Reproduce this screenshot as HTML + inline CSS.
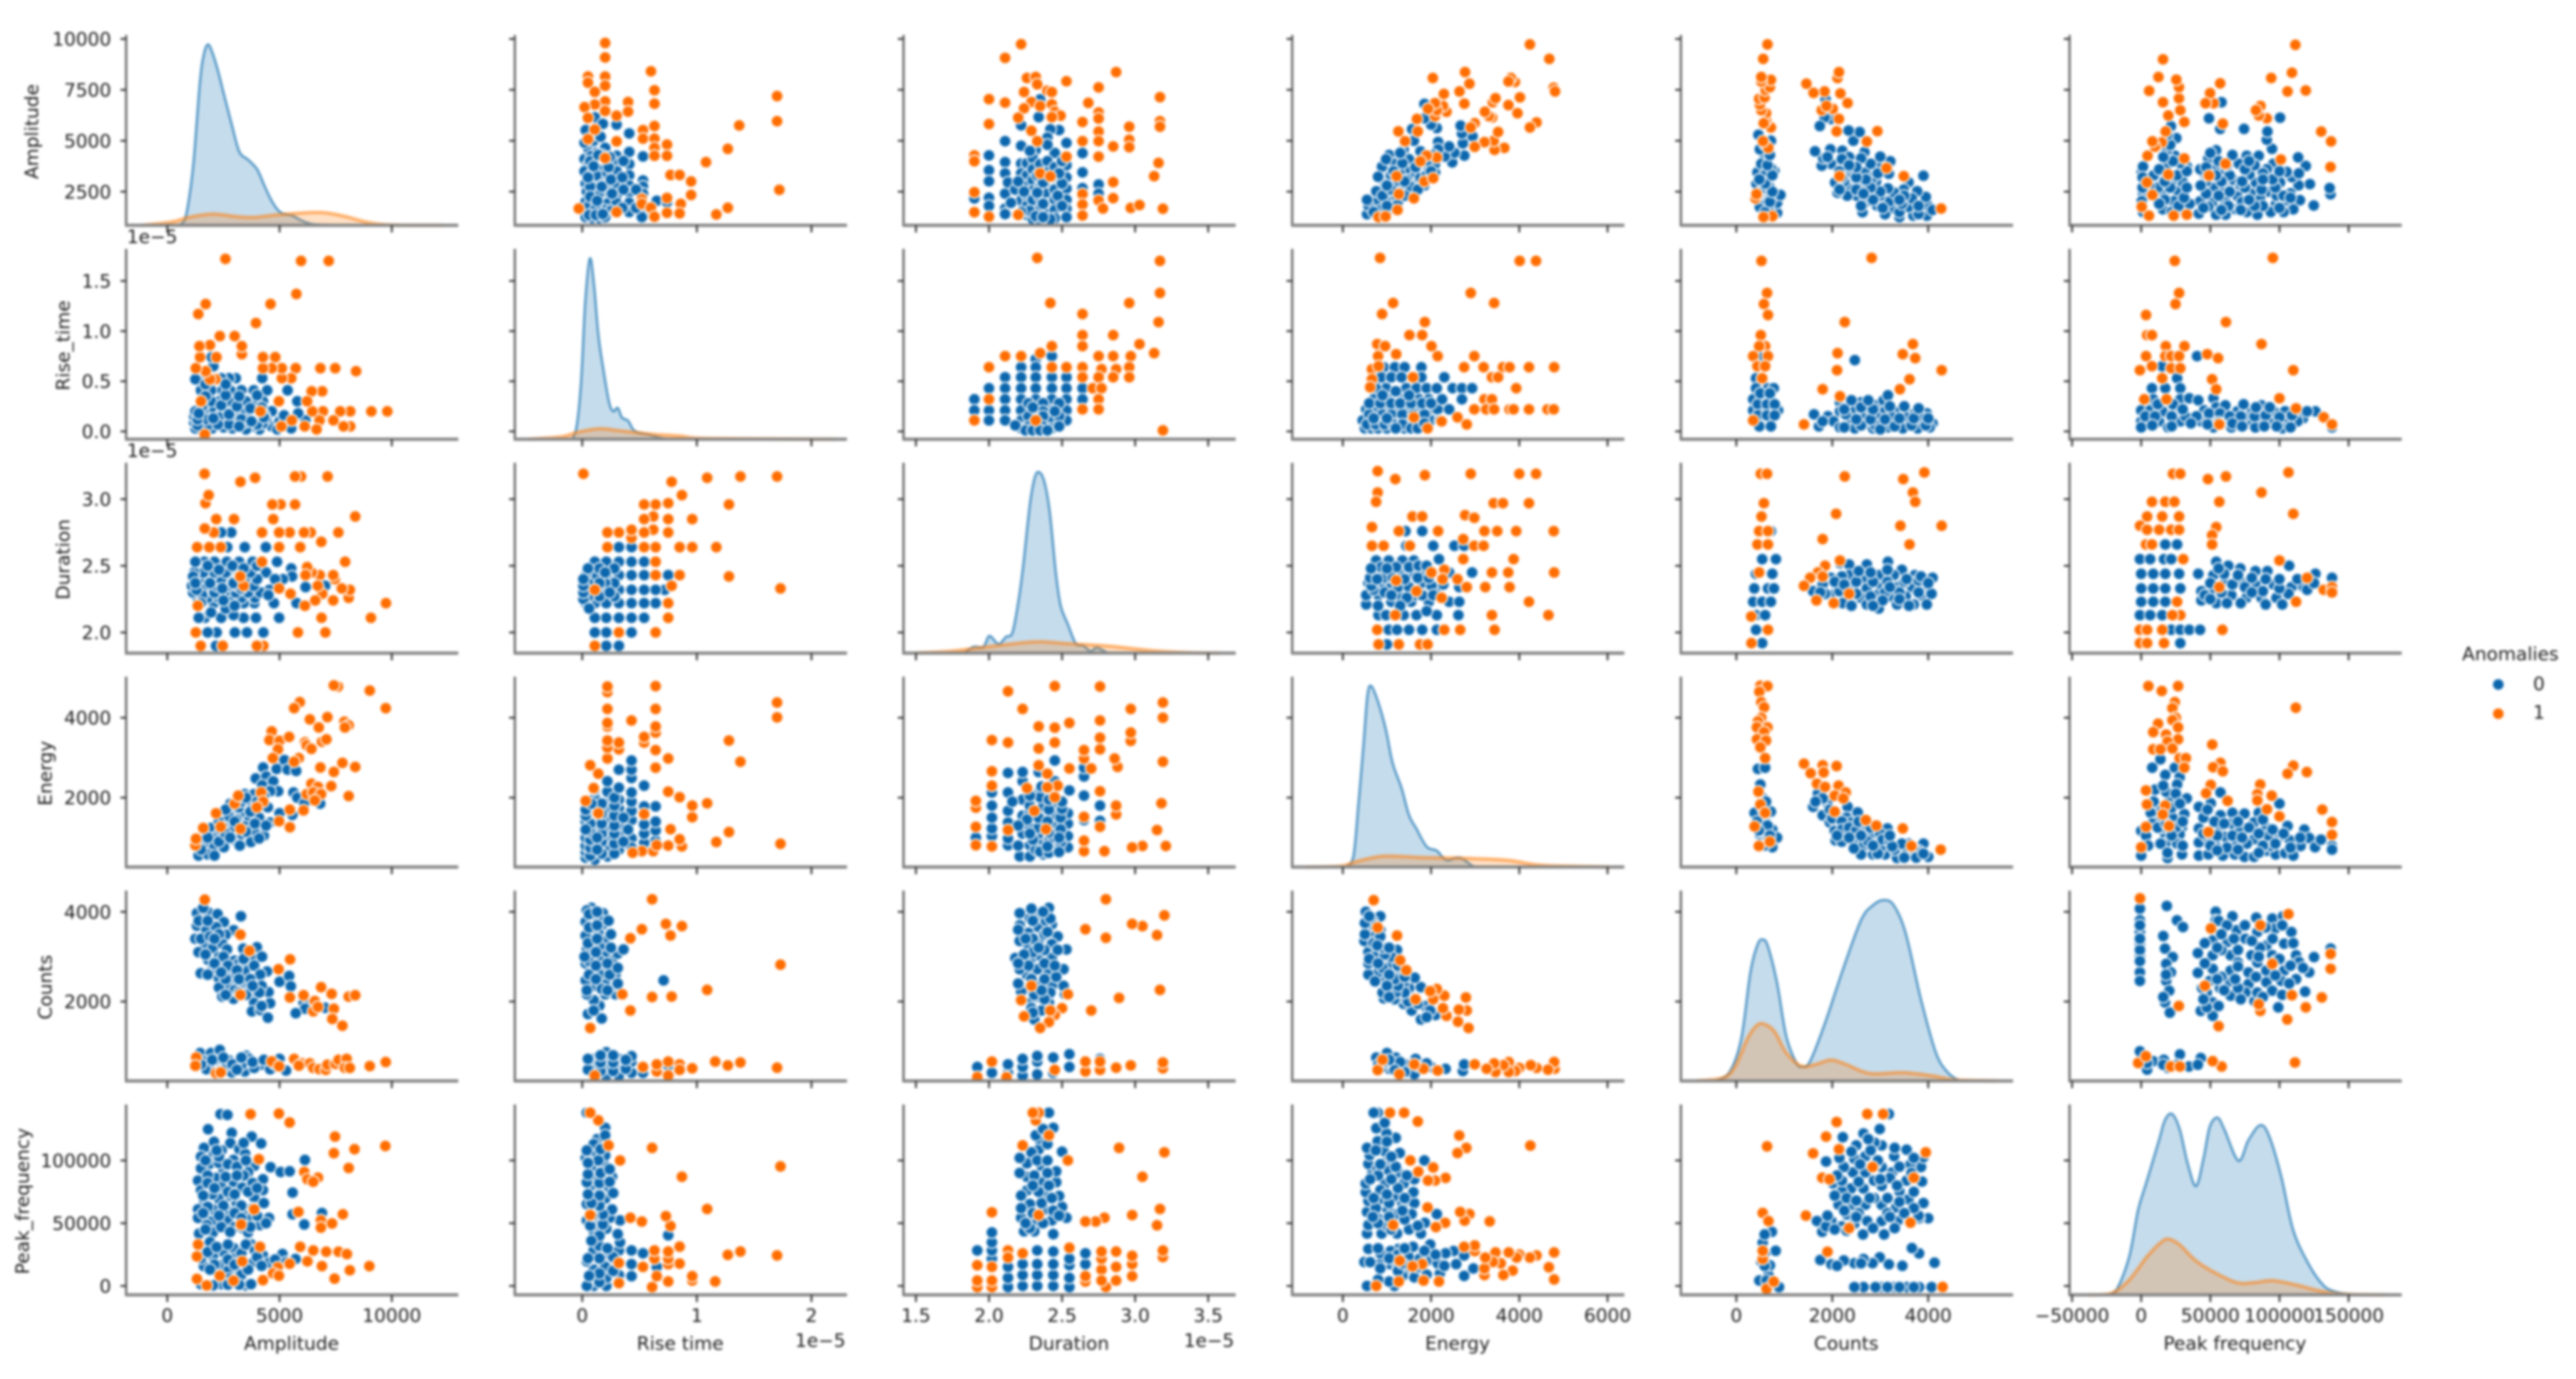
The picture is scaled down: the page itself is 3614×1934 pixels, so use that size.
<!DOCTYPE html>
<html lang="en">
<head>
<meta charset="utf-8">
<title>Pair plot of acoustic emission features by anomaly label</title>
<style>
html,body{margin:0;padding:0;background:#fff;}
#chart{display:block;width:3614px;height:1934px;filter:blur(1.8px);background:#fff;}
text{font-family:"DejaVu Sans","Liberation Sans",sans-serif;fill:#1c1c1c;font-size:26px;}
</style>
</head>
<body>
<svg id="chart" xmlns="http://www.w3.org/2000/svg" width="3614" height="1934" viewBox="0 0 3614 1934">
<g id="panels"></g>
<g id="legend">
<text x="3522" y="926" text-anchor="middle">Anomalies</text>
<circle cx="3505" cy="960" r="8.5" fill="#0b66ad" stroke="#fff" stroke-width="2"></circle>
<text x="3562" y="968" text-anchor="middle">0</text>
<circle cx="3505" cy="1001" r="8.5" fill="#ff6d00" stroke="#fff" stroke-width="2"></circle>
<text x="3562" y="1008" text-anchor="middle">1</text>
</g>
</svg>
<script>
const varKeys = ['A','R','D','E','C','P'];
const rowNames = {A:'Amplitude',R:'Rise_time',D:'Duration',E:'Energy',C:'Counts',P:'Peak_frequency'};
const colNames = {A:'Amplitude',R:'Rise time',D:'Duration',E:'Energy',C:'Counts',P:'Peak frequency'};
const xLimits = {A:[-1832,12962],R:[-0.588,2.31],D:[1.415,3.688],E:[-1147,6381],C:[-1156,5768],P:[-51800,188400]};
const yLimits = {A:[847,10196],R:[-0.078,1.82],D:[1.845,3.273],E:[264,5028],C:[229,4474],P:[-7100,144600]};
const xTickValues = {A:[0,5000,10000],R:[0,1,2],D:[1.5,2,2.5,3,3.5],E:[0,2000,4000,6000],C:[0,2000,4000],P:[-50000,0,50000,100000,150000]};
const xTickLabels = {A:['0','5000','10000'],R:['0','1','2'],D:['1.5','2.0','2.5','3.0','3.5'],E:['0','2000','4000','6000'],C:['0','2000','4000'],P:['\u221250000','0','50000','100000','150000']};
const yTickValues = {A:[2500,5000,7500,10000],R:[0,0.5,1,1.5],D:[2,2.5,3],E:[2000,4000],C:[2000,4000],P:[0,50000,100000]};
const yTickLabels = {A:['2500','5000','7500','10000'],R:['0.0','0.5','1.0','1.5'],D:['2.0','2.5','3.0'],E:['2000','4000'],C:['2000','4000'],P:['0','50000','100000']};

/* KDE curves: [value, relative density] */
const kdeA0 = [[450,0],[760,.027],[970,.15],[1180,.363],[1450,.788],[1630,.947],[1820,1],[2030,.947],[2290,.84],[2500,.735],[2870,.558],[3210,.407],[3600,.363],[4000,.31],[4320,.221],[4660,.133],[5050,.071],[5580,.053],[5970,.027],[6370,.009],[6760,.004],[7950,0]];
const kdeA1 = [[-1130,0],[180,.018],[970,.044],[2030,.062],[3080,.048],[3870,.044],[4920,.058],[6500,.071],[7290,.065],[8080,.044],[8870,.018],[9920,.002],[12290,0]];
const kdeR0 = [[-.09,0],[-.05,.067],[-.01,.314],[.026,.756],[.067,1],[.104,.845],[.14,.58],[.18,.403],[.233,.208],[.27,.155],[.31,.173],[.347,.12],[.4,.102],[.45,.05],[.52,.032],[.6,.023],[.7,.005],[.78,0]];
const kdeR1 = [[-.47,0],[-.18,.014],[-.03,.04],[.155,.058],[.34,.046],[.6,.028],[.85,.018],[1.11,.004],[2.2,0]];
const kdeD0 = [[1.826,0],[1.894,.035],[1.962,.035],[2.003,.095],[2.065,.05],[2.116,.09],[2.16,.113],[2.2,.28],[2.235,.49],[2.28,.823],[2.314,.974],[2.345,1],[2.38,.944],[2.416,.778],[2.457,.446],[2.49,.264],[2.54,.159],[2.594,.053],[2.645,.041],[2.696,.011],[2.737,.03],[2.816,0]];
const kdeD1 = [[1.5,0],[1.74,.011],[1.945,.03],[2.15,.05],[2.34,.063],[2.525,.053],[2.83,.038],[3.1,.015],[3.34,.003],[3.58,0]];
const kdeE0 = [[70,0],[240,.06],[354,.347],[470,.68],[560,.952],[650,1],[810,.906],[980,.755],[1130,.574],[1330,.438],[1500,.287],[1670,.211],[1900,.113],[2130,.09],[2350,.038],[2640,.053],[2930,.008],[3040,0]];
const kdeE1 = [[-850,0],[-50,.005],[300,.03],[925,.06],[1780,.053],[2810,.048],[3730,.038],[4530,.01],[6070,0]];
const kdeC0 = [[-460,0],[-150,.046],[100,.23],[290,.596],[440,.752],[550,.783],[660,.743],[850,.541],[1040,.248],[1250,.1],[1370,.079],[1540,.11],[1850,.321],[2220,.615],[2600,.89],[2850,.972],[3070,1],[3280,.972],[3530,.817],[3850,.45],[4160,.156],[4410,.046],[4660,0]];
const kdeC1 = [[-840,0],[-270,.018],[-20,.083],[225,.23],[410,.303],[560,.316],[790,.275],[1040,.156],[1350,.083],[1660,.092],[1970,.116],[2280,.092],[2780,.042],[3470,.046],[4090,.028],[4590,.006],[5470,0]];
const kdeP0 = [[-23700,0],[-17200,.037],[-8600,.212],[-2200,.47],[4300,.635],[12900,.856],[17200,.967],[22400,1],[28000,.912],[33600,.727],[39700,.602],[45300,.764],[49600,.93],[55200,.98],[60300,.912],[70300,.742],[77600,.856],[86200,.939],[92700,.875],[101300,.654],[109900,.359],[120700,.175],[131500,.055],[140100,.018],[150900,.004],[161600,0]];
const kdeP1 = [[-38800,0],[-21600,.009],[-8600,.083],[4300,.212],[15100,.295],[20300,.308],[28000,.276],[38800,.193],[51700,.129],[69000,.068],[81900,.068],[94800,.079],[112000,.055],[129300,.022],[146600,.004],[176700,0]];

/* Scatter readings: [x value, y value]; rise time and duration in units of 1e-5 */
const ptsRA0 = [[.03,5520],[.11,6150],[.18,5830],[.3,5790],[.41,5360],[.05,4650],[.2,4650],[.41,4450],[.3,4260],[.53,4230],[.12,4400],[.02,4100],[.08,4250],[.15,4050],[.2,3900],[.05,3800],[.12,3700],[.3,3900],[.41,3850],[.02,3500],[.09,3450],[.17,3550],[.2,3300],[.3,3500],[.41,3300],[.53,3050],[.03,2900],[.1,2950],[.14,3050],[.2,2800],[.3,2850],[.41,2800],[.53,2750],[.04,2500],[.1,2400],[.16,2500],[.2,2300],[.3,2300],[.41,2450],[.53,2400],[.65,2050],[.03,2000],[.1,1900],[.17,2000],[.23,1950],[.3,1950],[.41,1950],[.52,2000],[.74,1980],[.02,1550],[.08,1500],[.14,1500],[.2,1600],[.25,1550],[.41,1500],[.53,1450],[.03,1250],[.09,1200],[.15,1200],[.2,1250],[.52,1250],[.06,1800],[.12,1700],[.14,2300],[.07,2750],[.12,3300],[.07,4000],[.17,4300],[.05,3200],[.1,3750],[.14,4300],[.17,2750],[.23,3700],[.25,3100],[.26,2400],[.07,2250],[.13,2050],[.06,1350],[.12,1350],[.18,1400],[.35,1700],[.36,2600],[.35,3200],[.36,4000],[.47,2600],[.47,1700],[.24,4200],[.1,5000],[.02,4900],[.16,5200]];
const ptsRA1 = [[.2,9800],[.2,9090],[.6,8410],[.05,8150],[.2,8150],[.05,7850],[.2,7700],[.63,7480],[.11,7400],[.63,6820],[.4,6900],[.4,6430],[.2,6930],[.11,6780],[.02,6650],[.2,6460],[.3,6230],[.05,6120],[.63,5720],[1.7,7190],[1.7,5960],[1.37,5750],[1.27,4600],[1.08,3950],[1.72,2590],[.95,3000],[.77,3320],[.85,3320],[.95,2340],[.53,5520],[.53,5100],[.63,5100],[.74,4810],[.63,4650],[.63,4260],[.74,4260],[.3,4970],[.11,5550],[.05,5080],[.2,4150],[1.27,1710],[1.17,1380],[.86,1900],[.74,2190],[.52,2140],[.52,1900],[.6,1710],[.63,1270],[.74,1460],[.85,1430],[.3,1500],[-.03,1670]];
const ptsDA0 = [[2.35,7030],[2.34,6160],[2.22,5760],[2.48,5520],[2.42,5560],[2.4,5150],[2.11,4980],[2.53,4890],[2.22,4750],[2.64,4390],[2,4280],[2.32,4550],[2.45,4400],[2.64,3450],[2.75,2850],[2.75,2400],[2.64,2670],[2,3550],[2,3010],[2,2200],[2,1800],[1.9,2170],[2.11,3950],[2.11,3400],[2.11,2400],[2.11,1670],[2.11,1400],[2.22,3880],[2.22,3400],[2.22,2070],[2.26,3900],[2.26,3300],[2.26,2800],[2.26,2300],[2.26,1800],[2.26,1350],[2.3,4150],[2.3,3600],[2.3,3050],[2.3,2550],[2.3,2100],[2.3,1500],[2.3,1150],[2.35,3850],[2.35,3100],[2.35,2700],[2.35,2200],[2.35,1650],[2.35,1100],[2.4,4000],[2.4,3450],[2.4,2900],[2.4,2400],[2.4,1900],[2.4,1400],[2.45,3700],[2.45,3100],[2.45,2600],[2.45,2100],[2.45,1600],[2.45,1200],[2.53,3800],[2.53,3200],[2.53,2650],[2.53,2100],[2.53,1650],[2.53,1250],[2.13,2950],[2.15,1950],[2.18,2600],[2.2,3000],[2.28,1550],[2.33,3300],[2.33,2450],[2.37,2950],[2.37,1900],[2.43,3200],[2.47,2300],[2.5,2900],[2.5,1800],[2.28,4500],[2.4,4800],[2.22,1500],[2.24,2500],[2.32,1300],[2.42,1150],[2.37,1250],[2.48,3400],[2.5,4000]];
const ptsDA1 = [[2.22,9740],[2.11,9070],[2.87,8370],[2.26,8080],[2.32,8130],[2.53,7920],[2.33,7770],[2.75,7620],[2.24,7390],[2.4,7460],[2.43,7390],[3.17,7140],[2,7040],[2.11,6870],[2.29,6900],[2.68,6860],[2.43,6790],[2.35,6700],[2.24,6590],[2.75,6390],[2.75,6090],[2.45,6430],[2.49,6230],[2.2,6130],[2.43,6160],[2,5820],[2.64,5920],[3.17,5960],[3.17,5690],[2.96,5690],[2.75,5450],[2.29,5490],[2.64,4980],[2.75,4980],[2.96,5050],[2.85,4720],[2.96,4680],[2.33,4980],[2.75,4220],[2.53,4220],[1.9,4280],[1.9,3990],[3.16,3910],[3.13,3260],[2.85,2970],[2.64,2380],[2.75,2070],[2.85,2180],[2.78,1670],[2.64,1870],[2.64,1330],[2.97,1700],[3.03,1840],[3.19,1660],[1.9,2470],[1.9,1490],[2,1270],[2.35,3400],[2.42,3250],[2.2,1360]];
const ptsAE0 = [[4270,2755],[3940,2480],[4410,2530],[4230,2310],[4720,2410],[5220,2940],[4870,2720],[5360,2700],[5740,2670],[4940,2160],[4580,2160],[5620,2130],[5790,2000],[6100,1850],[6810,1850],[3450,2090],[3870,2090],[3560,1940],[2810,1850],[2850,1670],[3450,1610],[4480,1760],[5000,1610],[5570,1570],[2600,1420],[3090,1450],[3660,1450],[4090,1500],[4580,1380],[1670,1130],[1950,1240],[2310,1090],[2880,1240],[3450,1280],[4010,1240],[4300,1050],[2030,980],[2950,950],[3660,1020],[3730,890],[2030,780],[2520,760],[3230,800],[1390,550],[1810,580],[2100,550],[1600,850],[2470,1310],[3320,1090],[2740,1530],[3870,1170],[4090,980],[3190,1760],[1500,700],[2300,900],[2600,1100],[3500,1150],[3000,1400],[3900,1350],[4400,1300],[3300,1900],[4000,1900],[2300,1400],[1800,1000],[2800,1000],[3500,2000],[4300,2050],[2600,1700],[3700,1650]];
const ptsAE1 = [[7600,4780],[7420,4810],[9020,4680],[9730,4240],[5900,4390],[5650,4240],[6350,3960],[7130,4015],[6750,3755],[7890,3900],[8080,3810],[7910,3755],[4650,3660],[4550,3440],[5000,3420],[5430,3520],[4930,3210],[6140,3385],[6210,3310],[6420,3220],[6890,3400],[7090,3460],[4700,2990],[5860,2990],[5650,2900],[6820,2755],[7800,2870],[8370,2770],[7420,2645],[6420,2350],[6710,2270],[7300,2290],[8080,2040],[6210,2090],[6500,2130],[6850,2090],[6570,1930],[6070,1680],[5460,1700],[4980,1410],[5460,1260],[4180,2130],[4270,1900],[3990,1760],[3000,1850],[3160,2050],[2170,1610],[2380,1270],[3260,1220],[1250,810],[1280,970],[1600,1240]];
const ptsAC0 = [[3280,3900],[1320,3970],[1820,3990],[2240,3950],[2520,3770],[1600,4090],[2960,3590],[3990,3210],[3380,3180],[3730,3010],[4220,3000],[1320,3690],[1750,3590],[2170,3660],[2600,3490],[1250,3400],[1670,3290],[2030,3190],[2450,3290],[1390,3100],[1820,2930],[2310,3000],[2660,3160],[2990,2910],[3450,2700],[3870,2800],[1490,2630],[2000,2700],[2450,2770],[2880,2630],[2950,2510],[3450,2370],[4010,2500],[4440,2670],[4140,2600],[2300,2510],[2660,2340],[2300,2310],[2450,2110],[2950,2060],[3870,2140],[4510,2210],[4580,1960],[3870,1970],[3770,1780],[4150,1810],[4480,1640],[5000,2440],[5430,2570],[5500,2340],[6070,1970],[6140,1840],[5720,1740],[7030,1860],[3200,2850],[3600,2450],[4200,2350],[1500,3400],[1900,3450],[2300,3500],[1400,3800],[1800,3800],[2100,3400],[2500,3000],[1700,3050],[2100,2850],[2700,2800],[3100,2700],[3400,2950],[2600,2500],[3200,2500],[3700,2500],[3000,2250],[3500,2150],[4100,2200],[4200,1900],[2600,2150],[3200,2200],[3800,2350],[2400,2650],[1800,2600],[1460,850],[1950,850],[2340,920],[1670,665],[1740,490],[2170,590],[2740,690],[3160,660],[3520,790],[3660,720],[2880,420],[3450,440],[4150,590],[4580,490],[5290,460],[5000,720],[2450,490],[3300,590],[3870,520],[1500,600],[2000,700],[2500,750],[2900,600],[3300,750],[3800,650],[4300,700],[4800,600],[2300,450],[3100,480]];
const ptsAC1 = [[1670,4270],[3260,3490],[3660,3130],[5470,2940],[4960,2720],[3260,2150],[6850,2320],[7320,2170],[6070,2140],[5460,2090],[8080,2110],[8370,2140],[6570,2010],[7420,1840],[6500,1780],[7350,1610],[7800,1460],[6710,1880],[1290,752],[1250,567],[2170,400],[2380,420],[4650,665],[4980,555],[5650,720],[6000,620],[6350,620],[5860,570],[6500,520],[6780,490],[7060,475],[7130,590],[7490,610],[7630,700],[7990,720],[7910,520],[8130,520],[9020,560],[9730,650]];
const ptsAP0 = [[2370,136900],[2680,136300],[1820,124800],[2870,122000],[3760,119000],[4180,113500],[2080,114800],[2810,113800],[1630,110000],[2420,108000],[3210,109000],[3470,105200],[1500,103000],[2080,105000],[1900,97500],[2950,100400],[1500,93700],[2500,92700],[3870,95600],[4600,94600],[5050,90800],[5450,91300],[6130,100400],[3600,90800],[4260,85000],[1370,84000],[2160,86000],[2950,83000],[1500,76300],[2420,79000],[3340,78300],[5580,74400],[4260,76300],[1630,68600],[2290,69600],[3080,66700],[3870,70600],[1370,61000],[2030,61000],[2810,59000],[3470,59000],[1370,54200],[1970,51300],[2680,52300],[3730,53300],[4530,54200],[1760,48500],[3390,45600],[4130,48500],[1420,41700],[2030,42700],[3600,42700],[5580,57100],[6890,58100],[6100,49000],[1630,30200],[2550,26300],[2030,23500],[2950,30200],[3730,33100],[4260,24400],[5130,25400],[5710,21500],[1630,15800],[2420,16700],[3080,10000],[3870,19600],[3340,14800],[4530,18600],[1500,1350],[2420,1350],[3470,400],[3730,1350],[2030,400],[1900,35000],[3000,22000],[2700,12000],[2000,73000],[2800,72000],[3400,88000],[1800,88000],[2300,98000],[3300,64000],[2400,47000],[3000,47000],[1700,100000],[2300,103000],[2700,97000],[3100,95000],[3500,100000],[1800,82000],[2600,87000],[3100,88000],[3800,82000],[1600,72000],[2100,78000],[2700,75000],[3000,73000],[3600,75000],[4000,78000],[1800,63000],[2500,64000],[3000,58000],[3800,62000],[4300,66000],[1600,58000],[2300,56000],[3300,54000],[4000,56000],[2800,43000],[3700,47000],[4400,50000],[1700,45000],[2200,108000],[3400,114000],[1500,22000],[1800,27000],[2200,31000],[2700,33000],[3300,26000],[3500,33000],[3900,28000],[4000,23000],[2100,17000],[2700,21000],[3000,17000],[3300,9000],[2800,6000],[1900,13000],[4200,16000],[4800,21000],[3600,13000],[2700,1000],[3200,1000],[5300,19000]];
const ptsAP1 = [[3710,136900],[4970,137300],[5450,130200],[7470,119000],[8340,109000],[9710,111500],[7420,105800],[8080,94000],[6100,90800],[6710,86300],[6240,85000],[6500,83000],[5840,59000],[7820,57100],[6840,52300],[7340,49800],[6840,46500],[3290,49000],[3870,61000],[4080,101000],[1370,33000],[1320,23500],[4130,31200],[5920,31200],[6500,28300],[7080,27300],[7630,27300],[8000,25400],[6240,19600],[6890,15800],[9000,15800],[8130,12500],[7450,5800],[5450,17700],[4920,14800],[4710,10000],[4260,4600],[4970,8100],[3340,19600],[1320,5600],[1760,400],[2340,8100],[2950,4200]];
const ptsDR0 = [[1.9,.32],[1.9,.21],[2,.43],[2,.21],[2,.11],[2.11,.54],[2.11,.43],[2.11,.32],[2.11,.21],[2.11,.11],[2.22,.64],[2.22,.54],[2.22,.43],[2.22,.32],[2.22,.21],[2.22,.11],[2.22,.03],[2.32,.72],[2.32,.64],[2.32,.54],[2.32,.43],[2.32,.32],[2.32,.21],[2.32,.11],[2.32,.03],[2.43,.75],[2.43,.54],[2.43,.43],[2.43,.32],[2.43,.21],[2.43,.11],[2.43,.03],[2.53,.54],[2.53,.43],[2.53,.32],[2.53,.21],[2.53,.11],[2.64,.43],[2.64,.32],[2.27,.28],[2.27,.15],[2.27,.05],[2.37,.28],[2.37,.2],[2.37,.15],[2.37,.05],[2.48,.28],[2.48,.15],[2.48,.05],[2.25,.01],[2.3,.01],[2.35,.01],[2.4,.01],[2.18,.06],[2.45,.2],[2.3,.24]];
const ptsDR1 = [[2.33,1.73],[3.17,1.7],[3.17,1.38],[2.42,1.28],[2.96,1.28],[2.64,1.17],[3.16,1.09],[2.64,.96],[2.85,.96],[2.64,.85],[3.03,.87],[2.43,.85],[2.35,.78],[2.11,.75],[2.22,.75],[2.75,.75],[2.85,.75],[2.97,.75],[3.13,.78],[2,.64],[2.43,.64],[2.53,.64],[2.64,.64],[2.77,.62],[2.87,.62],[2.96,.64],[2.75,.54],[2.85,.54],[2.96,.54],[2.64,.54],[2.71,.43],[2.77,.43],[2,.32],[2.75,.32],[2.64,.22],[2.75,.22],[1.9,.11],[3.19,.01],[2.32,.11]];
const ptsER0 = [[925,.64],[1180,.64],[1400,.64],[1780,.64],[870,.54],[1100,.54],[1330,.54],[1780,.54],[2300,.54],[980,.43],[1440,.43],[1670,.43],[1900,.43],[2130,.43],[2490,.43],[2700,.43],[2930,.43],[750,.43],[2700,.32],[700,.32],[1100,.32],[1330,.32],[1730,.32],[1950,.32],[530,.22],[750,.22],[980,.22],[1200,.22],[1450,.22],[1700,.22],[1950,.22],[2150,.22],[2410,.22],[450,.11],[650,.11],[850,.11],[1050,.11],[1300,.11],[1500,.11],[1750,.11],[2000,.11],[500,.03],[650,.03],[800,.03],[1000,.03],[1250,.03],[1400,.03],[600,.17],[900,.17],[1100,.17],[1350,.17],[1600,.17],[1850,.17],[550,.07],[750,.07],[950,.07],[1150,.07],[1350,.07],[1650,.07],[600,.28],[850,.28],[1100,.28],[1300,.28],[1550,.28],[1800,.28],[2000,.28],[2250,.32],[700,.13],[1000,.13],[1200,.03],[1550,.03],[1700,.03],[1850,.08],[2200,.11],[900,.36],[1200,.4],[1500,.36]];
const ptsER1 = [[845,1.73],[4010,1.7],[4380,1.7],[2900,1.38],[3430,1.28],[1140,1.28],[890,1.17],[1860,1.09],[1510,.96],[1800,.96],[2010,.85],[780,.87],[960,.85],[2150,.75],[1210,.77],[800,.75],[2980,.75],[660,.62],[810,.65],[2750,.64],[3190,.64],[3630,.64],[3780,.64],[4220,.64],[4790,.64],[660,.52],[1590,.54],[3380,.54],[3520,.54],[3930,.43],[620,.44],[3210,.32],[3380,.32],[2980,.22],[3250,.22],[3430,.22],[3780,.22],[3870,.22],[4220,.22],[4640,.22],[4780,.22],[2600,.14],[2810,.07],[2240,.1],[1920,.03],[1610,.14]];
const ptsCR0 = [[2470,.71],[575,.75],[410,.53],[410,.43],[660,.43],[780,.43],[540,.32],[350,.32],[720,.32],[350,.21],[540,.21],[870,.21],[720,.21],[540,.1],[720,.1],[1620,.17],[1720,.05],[1910,.15],[2160,.29],[2350,.26],[2600,.29],[2910,.26],[3070,.31],[3160,.36],[2160,.2],[2470,.2],[2780,.2],[3100,.2],[3410,.2],[3720,.18],[3970,.18],[2030,.1],[2350,.1],[2660,.1],[2970,.1],[3280,.1],[3600,.1],[3910,.1],[4090,.08],[2160,.04],[2470,.03],[2850,.03],[3160,.04],[3470,.03],[3780,.03],[4030,.04],[2280,.17],[2600,.15],[2910,.15],[3230,.15],[3540,.14],[3850,.14],[1800,.1],[2250,.04],[2600,.06],[2900,.06],[3000,.02],[3300,.05],[3650,.06],[3950,.06],[2500,.12],[2800,.12],[3100,.12],[3400,.13],[3700,.13],[2250,.22],[2600,.24],[2850,.22],[3200,.25],[3500,.25],[3800,.23],[4000,.13],[2400,.31],[2750,.31],[450,.27],[640,.27],[800,.27],[450,.16],[640,.16],[800,.16],[500,.38],[700,.38],[480,.05],[720,.05]];
const ptsCR1 = [[525,1.7],[2820,1.73],[640,1.38],[575,1.27],[660,1.16],[2260,1.09],[510,.96],[600,.85],[475,.85],[3680,.87],[3470,.77],[2110,.78],[3730,.73],[350,.75],[660,.75],[2100,.61],[4280,.61],[440,.65],[600,.65],[3610,.52],[540,.53],[3410,.42],[1800,.42],[2160,.35],[1410,.07],[350,.11]];
const ptsPR0 = [[15200,.65],[40400,.75],[26000,.53],[7800,.43],[17400,.43],[28300,.43],[8700,.32],[28300,.32],[34800,.33],[52200,.33],[0,.21],[6500,.21],[17400,.21],[26000,.21],[41300,.31],[45600,.21],[54300,.24],[60900,.26],[69600,.2],[78300,.2],[87000,.26],[95700,.2],[104000,.2],[117000,.13],[126000,.2],[0,.1],[0,.04],[13000,.1],[19600,.04],[28300,.1],[43500,.1],[52200,.13],[60900,.1],[69600,.1],[78300,.08],[87000,.1],[95700,.08],[106000,.08],[113000,.1],[138000,.04],[52200,.04],[65200,.04],[82600,.04],[102000,.03],[15200,.2],[73900,.15],[3000,.15],[10000,.15],[22000,.15],[32000,.15],[40000,.15],[49000,.18],[57000,.18],[64000,.15],[72000,.15],[82000,.15],[90000,.16],[100000,.14],[109000,.16],[48000,.07],[56000,.09],[66000,.08],[73000,.05],[89000,.05],[98000,.05],[108000,.04],[120000,.2],[23000,.27],[12000,.27],[30000,.22],[36000,.08],[22000,.05],[8000,.06],[74000,.27],[83000,.24],[93000,.24]];
const ptsPR1 = [[24300,1.7],[95200,1.73],[27400,1.38],[24800,1.27],[3500,1.16],[61300,1.09],[4300,.96],[7800,.96],[17800,.85],[31300,.85],[87000,.87],[47800,.77],[55600,.73],[3500,.75],[17400,.75],[21700,.75],[27400,.75],[-900,.61],[7800,.65],[21700,.63],[28300,.63],[110000,.61],[15200,.53],[51300,.52],[54300,.42],[2200,.32],[18300,.32],[100000,.33],[112000,.23],[56500,.07],[132000,.14],[138000,.07]];
const ptsED0 = [[1420,2.76],[1800,2.76],[1440,2.65],[2050,2.65],[2530,2.65],[2750,2.65],[2180,2.55],[2930,2.45],[2410,2.45],[2640,2.34],[2180,2.35],[2410,2.23],[2640,2.23],[1950,2.23],[1550,2.23],[1100,2.23],[530,2.21],[530,2.28],[810,2.28],[580,2.37],[870,2.37],[1150,2.37],[1440,2.37],[1780,2.37],[2010,2.35],[700,2.44],[980,2.44],[1270,2.44],[1550,2.44],[1840,2.44],[755,2.54],[1040,2.54],[1350,2.54],[1610,2.54],[870,2.49],[1210,2.49],[1500,2.49],[1100,2.34],[1380,2.31],[810,2.13],[980,2.13],[1380,2.13],[1670,2.13],[2130,2.13],[2620,2.13],[1040,2.02],[1230,2.02],[1500,2.02],[1800,2.02],[2130,2.02],[1000,1.91],[700,2.32],[1650,2.28],[1250,2.28],[650,2.35],[950,2.3],[1250,2.34],[1500,2.34],[620,2.41],[920,2.41],[1130,2.41],[1400,2.4],[1700,2.41],[1950,2.41],[1100,2.28],[1450,2.26],[1800,2.28],[2050,2.28],[800,2.2],[1300,2.2],[640,2.48],[1000,2.48],[1720,2.5],[1900,2.5],[780,2.4],[2280,2.36],[1900,2.16]];
const ptsED1 = [[790,3.21],[1190,3.15],[1860,3.18],[2900,3.19],[4000,3.19],[4380,3.19],[790,3.05],[755,2.98],[3420,2.97],[3630,2.97],[4220,2.97],[1580,2.87],[1800,2.87],[2770,2.88],[2980,2.86],[660,2.79],[1270,2.76],[2160,2.76],[3210,2.76],[3500,2.76],[3930,2.76],[4780,2.76],[660,2.65],[925,2.65],[1520,2.65],[2980,2.65],[3190,2.65],[2730,2.7],[2730,2.55],[3870,2.55],[2010,2.45],[3380,2.45],[3750,2.45],[4790,2.45],[2300,2.47],[2260,2.4],[2600,2.4],[2810,2.34],[3230,2.34],[3780,2.34],[1670,2.31],[2240,2.26],[4220,2.23],[3380,2.13],[4660,2.13],[780,2.02],[1190,2.13],[2300,2.02],[2660,2.02],[3440,2.02],[810,1.91],[1270,1.91],[1750,1.91],[1920,1.91],[1210,2.39]];
const ptsCD0 = [[720,2.76],[440,2.66],[540,2.55],[825,2.55],[750,2.44],[410,2.44],[375,2.33],[660,2.33],[785,2.33],[350,2.23],[540,2.23],[720,2.23],[410,2.13],[600,2.13],[410,2.02],[540,1.92],[3160,2.53],[2160,2.52],[2350,2.51],[2720,2.51],[3450,2.47],[1970,2.41],[2350,2.43],[2660,2.41],[2970,2.43],[3280,2.43],[3720,2.43],[4090,2.41],[1800,2.36],[2100,2.34],[2410,2.34],[2720,2.33],[3030,2.34],[3350,2.34],[3660,2.34],[3910,2.34],[1600,2.31],[1970,2.28],[2280,2.26],[2600,2.26],[2910,2.28],[3220,2.27],[3530,2.27],[3850,2.28],[4070,2.29],[2720,2.21],[2970,2.18],[3350,2.21],[3700,2.21],[3970,2.21],[2220,2.22],[2500,2.38],[2850,2.38],[3150,2.38],[3500,2.38],[3800,2.39],[1850,2.29],[2150,2.31],[2200,2.42],[2500,2.29],[2550,2.46],[2800,2.45],[3100,2.3],[3150,2.47],[3400,2.3],[3550,2.4],[3800,2.3],[3850,2.42],[3050,2.24],[3400,2.25],[2400,2.2],[2800,2.27],[2050,2.38],[1750,2.3],[4000,2.37],[2250,2.36],[2850,2.2],[3600,2.2],[3200,2.34]];
const ptsCD1 = [[510,3.19],[640,3.19],[2260,3.17],[3480,3.15],[3920,3.2],[3680,3.05],[3730,2.98],[575,2.97],[2080,2.89],[525,2.87],[3420,2.8],[4280,2.8],[475,2.76],[660,2.76],[1800,2.7],[3610,2.66],[440,2.66],[660,2.66],[2160,2.54],[1850,2.5],[475,2.45],[1700,2.45],[1540,2.41],[1800,2.42],[1410,2.35],[2350,2.29],[1670,2.24],[2030,2.22],[310,2.12],[660,2.02],[315,1.92]];
const ptsPD0 = [[17400,2.66],[26000,2.66],[-900,2.55],[6500,2.55],[16500,2.55],[21700,2.55],[0,2.44],[8700,2.44],[17400,2.44],[27400,2.44],[0,2.33],[8700,2.33],[17400,2.33],[28300,2.33],[0,2.23],[8700,2.23],[17400,2.23],[-900,2.13],[6500,2.13],[15200,2.13],[21700,2.02],[28300,2.02],[34800,2.02],[42600,2.02],[28300,1.92],[54300,2.53],[63000,2.5],[41300,2.44],[52200,2.43],[71700,2.48],[82600,2.46],[91300,2.46],[107000,2.5],[126000,2.44],[138000,2.41],[43500,2.31],[52200,2.33],[60900,2.38],[71700,2.38],[82600,2.36],[95700,2.36],[108700,2.34],[117400,2.34],[43500,2.24],[54300,2.22],[65200,2.28],[76100,2.26],[87000,2.26],[97800,2.26],[106500,2.29],[50000,2.37],[46000,2.28],[58000,2.3],[66000,2.36],[75000,2.34],[88000,2.31],[100000,2.33],[70000,2.43],[80000,2.41],[90000,2.4],[60000,2.44],[100000,2.4],[113000,2.4],[120000,2.32],[125000,2.37],[50000,2.25],[62000,2.22],[72000,2.22],[80000,2.3],[90000,2.21],[102000,2.21],[56000,2.48]];
const ptsPD1 = [[23000,3.19],[28300,3.19],[48300,3.15],[61300,3.17],[87000,3.05],[106500,3.2],[56500,2.98],[7800,2.98],[17400,2.98],[24000,2.98],[110000,2.89],[4300,2.87],[15200,2.87],[27400,2.87],[-800,2.8],[13000,2.77],[21700,2.77],[27400,2.77],[4300,2.77],[54300,2.79],[51300,2.73],[51300,2.66],[3500,2.66],[7800,2.66],[100000,2.54],[30400,2.55],[120000,2.41],[132000,2.32],[138000,2.34],[138000,2.3],[56500,2.34],[112000,2.23],[26000,2.23],[58700,2.02],[-900,2.02],[4300,2.02],[15200,2.02],[-900,1.92],[4300,1.92],[16500,1.92],[28300,2.13],[22600,2.13]];
const ptsCE0 = [[450,2720],[600,2750],[500,2330],[500,1860],[380,1620],[600,1410],[720,1650],[750,1200],[500,1050],[850,1000],[520,870],[750,760],[650,950],[1700,2100],[1600,1770],[1900,1860],[1800,1980],[2320,1770],[2530,1630],[1800,1560],[2100,1560],[2300,1500],[1950,1380],[2100,1320],[2400,1380],[2650,1230],[3150,1230],[2070,930],[2300,1110],[2500,930],[2900,960],[2700,1200],[2650,800],[2600,580],[2850,580],[3150,790],[3100,580],[3350,610],[3550,610],[3600,850],[3900,850],[3800,670],[4000,520],[3350,490],[2900,790],[2050,1170],[2200,900],[2450,730],[2800,1080],[3000,730],[1650,1900],[1950,1700],[2000,1480],[2200,1400],[2200,1200],[2350,1250],[2500,1180],[2550,1400],[2800,1250],[2750,900],[2600,1050],[3000,1100],[3050,950],[3200,900],[3300,700],[3450,850],[3700,700],[2950,600],[3250,780],[3500,500],[3750,500],[3900,600],[2350,1000],[2100,1050],[2850,800],[3200,1050],[470,2100],[560,1700],[430,1400],[650,1300],[470,1180],[580,800],[700,1050],[540,2000],[620,1900]];
const ptsCE1 = [[500,4800],[650,4790],[480,4650],[520,4390],[580,4260],[520,4000],[450,3910],[650,3760],[430,3760],[580,3640],[430,3460],[620,3430],[500,3260],[600,2990],[1410,2850],[1800,2810],[2090,2790],[1550,2610],[1820,2630],[1680,2350],[1850,2270],[2130,2300],[2280,2130],[2050,2050],[2230,1980],[500,1830],[2050,1650],[2700,1440],[2920,1300],[3470,1230],[380,1280],[470,790],[700,900],[3650,790],[4260,700],[460,2150],[600,1620]];
const ptsPE0 = [[13900,2960],[8000,2750],[24300,2750],[17400,2570],[27800,2510],[13900,2270],[26000,2330],[20800,2040],[33000,1980],[57300,2130],[50300,1860],[41700,1770],[100000,1850],[6900,1620],[31200,1590],[22600,1500],[10400,1380],[29500,1260],[41700,1230],[66000,1620],[74700,1600],[85000,1620],[57300,1560],[81600,1380],[105900,1290],[0,1170],[3500,1050],[17400,1080],[27800,1080],[57300,1200],[71200,1200],[90300,1260],[118000,1200],[121500,990],[17400,850],[26000,850],[41700,880],[53800,790],[69400,880],[81600,960],[99000,990],[107600,930],[125700,760],[115300,790],[138000,790],[138000,700],[0,550],[19100,490],[29500,580],[41700,550],[48600,580],[59000,550],[67700,580],[74700,520],[81600,520],[90300,670],[97200,580],[104200,610],[110000,550],[60800,1020],[76400,850],[93800,790],[48000,1000],[65000,1350],[92000,1050],[20000,1900],[15000,1250],[10000,2200],[18000,2150],[9000,1900],[16000,2300],[25000,2100],[8000,1350],[15000,1700],[22000,1750],[28000,1850],[12000,1250],[18000,1350],[25000,1250],[30000,1400],[5000,800],[14000,850],[22000,1050],[30000,800],[19000,620],[45000,1500],[53000,1400],[60000,1350],[70000,1400],[78000,1250],[88000,1450],[95000,1200],[55000,1050],[66000,1050],[73000,1000],[85000,1100],[103000,1100],[115000,1000],[50000,800],[62000,750],[88000,800],[97000,850],[108000,750],[85000,620],[70000,700],[55000,680],[45000,1100],[48000,1700],[130000,950]];
const ptsPE1 = [[5200,4790],[14900,4670],[26700,4790],[24300,4390],[22600,4240],[111800,4250],[25000,4000],[22600,3940],[26700,3760],[12200,3850],[8700,3640],[18000,3580],[26700,3460],[19100,3400],[8700,3210],[13900,3210],[22600,3230],[51400,3330],[27800,2990],[32300,2990],[31200,2750],[57300,2870],[52000,2760],[59000,2660],[110000,2800],[105900,2600],[119800,2640],[50300,2320],[46900,2110],[86100,2330],[84000,2090],[84000,1930],[94400,2050],[62500,1920],[91000,1710],[100000,1530],[131000,1700],[138000,1390],[138000,1070],[3500,2180],[4200,1830],[17400,1800],[15600,1580],[3500,1270],[20100,1290],[48600,1140],[0,760]];
const ptsPC0 = [[-900,4070],[-900,3810],[-900,3550],[-900,3280],[-900,3020],[-900,2650],[-900,2460],[18500,4130],[25900,3810],[30200,3660],[16000,3460],[17200,3180],[22800,2990],[18100,2840],[21500,2650],[18100,2460],[20300,2240],[17200,1980],[20700,1750],[53900,4000],[66000,3900],[83200,3870],[94800,3850],[102600,3900],[53900,3810],[49600,3630],[69000,3590],[84000,3550],[97000,3630],[108600,3550],[51700,3360],[62500,3330],[75400,3400],[90500,3250],[103400,3290],[41000,3080],[51700,3030],[64700,3030],[79700,3030],[94800,3030],[112000,3030],[125000,2990],[137000,3180],[41000,2640],[51700,2730],[64700,2690],[77600,2650],[90500,2690],[103400,2690],[114200,2880],[121500,2650],[49600,2460],[62500,2430],[77600,2390],[90500,2430],[101300,2460],[112000,2500],[47400,2200],[64700,2130],[75400,2200],[94800,2240],[118500,2220],[51700,1980],[81900,2010],[99100,1870],[43100,1790],[51700,1680],[47400,1870],[58000,3150],[70000,3150],[86000,3200],[58000,2550],[70000,2870],[84000,2870],[97000,2900],[57000,2300],[70000,2300],[84000,2200],[56000,3800],[62000,3700],[75000,3700],[90000,3650],[102000,3700],[58000,3500],[67000,3400],[80000,3350],[95000,3400],[110000,3300],[46000,3300],[55000,3200],[46000,2850],[70000,2780],[85000,3000],[100000,2950],[108000,2800],[117000,2750],[55000,2500],[68000,2500],[83000,2550],[97000,2580],[107000,2400],[44000,2300],[60000,2250],[72000,2050],[88000,2100],[102000,2150],[56000,1900],[45000,2050],[-900,3150],[-900,2900],[-900,3700],[-900,3400],[18000,2600],[16000,2100],[-900,890],[4300,480],[8600,670],[16400,700],[19400,520],[28000,820],[25900,590],[34500,550],[43100,740],[41000,590],[4300,630],[16000,590]];
const ptsPC1 = [[-800,4300],[50400,3630],[86200,3700],[106500,3950],[94800,2840],[137000,3060],[137000,2730],[46100,2350],[27200,1900],[109000,2140],[130600,2090],[119000,1870],[86200,1790],[85000,1940],[56000,1450],[105600,1600],[111200,640],[58200,550],[51700,670],[-2200,630],[3400,780],[21500,550],[28000,550]];

const scatterPairs = [
 ['R','A',ptsRA0,ptsRA1],['D','A',ptsDA0,ptsDA1],['A','E',ptsAE0,ptsAE1],['A','C',ptsAC0,ptsAC1],['A','P',ptsAP0,ptsAP1],
 ['D','R',ptsDR0,ptsDR1],['E','R',ptsER0,ptsER1],['C','R',ptsCR0,ptsCR1],['P','R',ptsPR0,ptsPR1],
 ['E','D',ptsED0,ptsED1],['C','D',ptsCD0,ptsCD1],['P','D',ptsPD0,ptsPD1],
 ['C','E',ptsCE0,ptsCE1],['P','E',ptsPE0,ptsPE1],['P','C',ptsPC0,ptsPC1]
];
const kdeCurves = {A:[kdeA0,kdeA1],R:[kdeR0,kdeR1],D:[kdeD0,kdeD1],E:[kdeE0,kdeE1],C:[kdeC0,kdeC1],P:[kdeP0,kdeP1]};

const SVGNS = 'http://www.w3.org/2000/svg';
const root = document.getElementById('panels');
const colLeft = i => 177 + i * 545.3;
const rowTop = i => 49 + i * 300;
const panelW = 466, panelH = 267;
const blue = '#0b66ad', orange = '#ff6d00';

function make(tag, parent, attrs) {
  const el = document.createElementNS(SVGNS, tag);
  for (const k in attrs) el.setAttribute(k, attrs[k]);
  parent.appendChild(el);
  return el;
}
function xAxis(key, col) {
  const lim = xLimits[key], left = colLeft(col);
  return v => left + (v - lim[0]) / (lim[1] - lim[0]) * panelW;
}
function yAxis(key, row) {
  const lim = yLimits[key], bottom = rowTop(row) + panelH;
  return v => bottom - (v - lim[0]) / (lim[1] - lim[0]) * panelH;
}
function findPair(xKey, yKey) {
  for (const p of scatterPairs) {
    if (p[0] === xKey && p[1] === yKey) return {blue: p[2], orange: p[3], swap: false};
    if (p[0] === yKey && p[1] === xKey) return {blue: p[2], orange: p[3], swap: true};
  }
  return null;
}
function smoothPath(pts) {
  let d = 'M' + pts[0][0].toFixed(1) + ' ' + pts[0][1].toFixed(1);
  for (let i = 0; i < pts.length - 1; i++) {
    const p0 = pts[Math.max(i - 1, 0)], p1 = pts[i], p2 = pts[i + 1], p3 = pts[Math.min(i + 2, pts.length - 1)];
    const c1x = p1[0] + (p2[0] - p0[0]) / 6, c1y = p1[1] + (p2[1] - p0[1]) / 6;
    const c2x = p2[0] - (p3[0] - p1[0]) / 6, c2y = p2[1] - (p3[1] - p1[1]) / 6;
    d += 'C' + c1x.toFixed(1) + ' ' + c1y.toFixed(1) + ' ' + c2x.toFixed(1) + ' ' + c2y.toFixed(1) + ' ' + p2[0].toFixed(1) + ' ' + p2[1].toFixed(1);
  }
  return d;
}
function drawKde(g, curve, sx, bottom, color, fillOpacity, lineOpacity, lineWidth, name) {
  const densityToY = d => bottom - d / 1.053 * panelH;
  const pts = curve.map(c => [sx(c[0]), densityToY(c[1])]);
  const line = smoothPath(pts);
  const fill = make('path', g, {d: line + 'L' + pts[pts.length - 1][0].toFixed(1) + ' ' + bottom + 'L' + pts[0][0].toFixed(1) + ' ' + bottom + 'Z', fill: color, 'fill-opacity': fillOpacity, stroke: 'none'});
  
  
  const stroke = make('path', g, {d: line, fill: 'none', stroke: color, 'stroke-opacity': lineOpacity, 'stroke-width': lineWidth});
  
  
}

varKeys.forEach((rowKey, r) => {
  varKeys.forEach((colKey, c) => {
    const g = make('g', root, {});
    
    
    const sx = xAxis(colKey, c), sy = yAxis(rowKey, r);
    const left = colLeft(c), top = rowTop(r), bottom = top + panelH;

    if (r === c) {
      drawKde(g, kdeCurves[rowKey][0], sx, bottom, '#1f77b4', .26, .75, 3.2, 'kde-class-0');
      drawKde(g, kdeCurves[rowKey][1], sx, bottom, '#ff7f0e', .24, .55, 5, 'kde-class-1');
    } else {
      const pair = findPair(colKey, rowKey);
      [[pair.blue, blue, 'point-class-0'], [pair.orange, orange, 'point-class-1']].forEach(series => {
        series[0].forEach(pt => {
          const xv = pair.swap ? pt[1] : pt[0], yv = pair.swap ? pt[0] : pt[1];
          const dot = make('circle', g, {cx: sx(xv).toFixed(1), cy: sy(yv).toFixed(1), r: 8.4, fill: series[1], stroke: '#fff', 'stroke-width': 1.8});
          
          
        });
      });
    }

    const spineY = make('line', g, {x1: left, x2: left, y1: top, y2: bottom + 2, stroke: '#6a6a6a', 'stroke-width': 3.2});
    
    
    const spineX = make('line', g, {x1: left, x2: left + panelW, y1: bottom, y2: bottom, stroke: '#858585', 'stroke-width': 4.4});
    
    

    yTickValues[rowKey].forEach((v, i) => {
      const y = sy(v);
      const tick = make('line', g, {x1: left - 8, x2: left, y1: y, y2: y, stroke: '#333', 'stroke-width': 2.6});
      
      
      if (c === 0) {
        const t = make('text', g, {x: left - 21, y: y + 9.5, 'text-anchor': 'end'});
        t.textContent = yTickLabels[rowKey][i];
        
        
      }
    });
    xTickValues[colKey].forEach((v, i) => {
      const x = sx(v);
      const tick = make('line', g, {x1: x, x2: x, y1: bottom, y2: bottom + 10, stroke: '#333', 'stroke-width': 2.6});
      
      
      if (r === 5) {
        const t = make('text', g, {x: x, y: 1854, 'text-anchor': 'middle'});
        t.textContent = xTickLabels[colKey][i];
        
        
      }
    });
    if (c === 0) {
      const cx = [46, 90, 90, 65, 65, 33][r], cy = top + panelH / 2 + 2;
      const t = make('text', g, {x: cx, y: cy, 'text-anchor': 'middle', 'dominant-baseline': 'middle', transform: 'rotate(-90 ' + cx + ' ' + cy + ')'});
      t.textContent = rowNames[rowKey];
      
      
      if (rowKey === 'R' || rowKey === 'D') {
        const o = make('text', g, {x: left + 1, y: top - 8});
        o.textContent = '1e\u22125';
        
        
      }
    }
    if (r === 5) {
      const t = make('text', g, {x: left + panelW / 2 - 1, y: 1893, 'text-anchor': 'middle'});
      t.textContent = colNames[colKey];
      
      
      if (colKey === 'R' || colKey === 'D') {
        const o = make('text', g, {x: left + panelW - 2, y: 1889, 'text-anchor': 'end'});
        o.textContent = '1e\u22125';
        
        
      }
    }
  });
});
</script>
</body>
</html>
